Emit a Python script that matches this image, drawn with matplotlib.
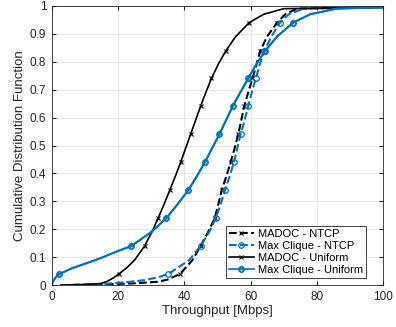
import numpy as np
import matplotlib.pyplot as plt
from matplotlib.lines import Line2D

# CDF levels (y) and throughput (x)
y_madoc_ntcp = [0, 0.002, 0.006, 0.012, 0.02, 0.04, 0.09, 0.14, 0.19, 0.24, 0.29, 0.34, 0.39, 0.44, 0.49,
                0.54, 0.59, 0.64, 0.69, 0.74, 0.79, 0.84, 0.89, 0.94, 0.97, 0.99, 0.995]
x_madoc_ntcp = [3, 12, 24, 32, 35, 38.7, 42.5, 44.9, 47.2, 49.2, 50.3, 51.3, 52.7, 54.0, 55.2,
                56.3, 57.2, 58.1, 59.3, 60.6, 61.8, 63.0, 65.0, 68.0, 70.5, 74, 100]

y_clique_ntcp = [0, 0.004, 0.01, 0.018, 0.028, 0.04, 0.09, 0.14, 0.19, 0.24, 0.29, 0.34, 0.39, 0.44, 0.49,
                 0.54, 0.59, 0.64, 0.69, 0.74, 0.79, 0.84, 0.89, 0.94, 0.97, 0.99, 0.995]
x_clique_ntcp = [2.5, 15, 22, 28, 32, 35.2, 41.5, 44.9, 47.5, 49.5, 51.0, 52.3, 53.7, 55.0, 56.0,
                 57.0, 58.2, 59.3, 60.4, 61.6, 62.8, 64.2, 66.3, 68.9, 71.5, 76, 100]

y_madoc_unif = [0, 0.002, 0.006, 0.015, 0.027, 0.04, 0.062, 0.09, 0.14, 0.19, 0.24, 0.29, 0.34, 0.39,
                0.44, 0.49, 0.54, 0.59, 0.64, 0.69, 0.74, 0.79, 0.84, 0.89, 0.94, 0.97, 0.99, 0.995]
x_madoc_unif = [2.8, 10, 14.9, 17.0, 18.7, 20.2, 22.6, 25.0, 28.0, 30.2, 32.1, 33.9, 35.6, 37.3,
                38.9, 40.4, 41.9, 43.4, 44.9, 46.5, 48.2, 50.2, 52.6, 55.5, 59.6, 64, 70, 100]

y_clique_unif = [0, 0.01, 0.018, 0.03, 0.04, 0.06, 0.093, 0.12, 0.14, 0.19, 0.24, 0.29, 0.34, 0.39,
                 0.44, 0.49, 0.54, 0.59, 0.64, 0.69, 0.74, 0.79, 0.84, 0.89, 0.94, 0.97, 0.99, 0.995]
x_clique_unif = [0, 0.2, 0.6, 1.3, 2.3, 6.0, 13.9, 19.5, 24.0, 30.0, 34.6, 38.0, 41.2, 43.8,
                 46.2, 48.4, 50.6, 52.6, 54.6, 56.9, 59.3, 61.7, 64.5, 68.0, 72.9, 78, 86, 100]

marker_levels = [0.04, 0.14, 0.24, 0.34, 0.44, 0.54, 0.64, 0.74, 0.84, 0.94]

def marks(y):
    return [i for i, v in enumerate(y) if any(abs(v - m) < 1e-9 for m in marker_levels)]

blue = '#0072BD'
plt.rcParams['font.family'] = ['Liberation Sans', 'DejaVu Sans']

fig = plt.figure(figsize=(3.96, 3.27), dpi=100)
ax = fig.add_axes([0.131, 0.128, 0.836, 0.854])

ax.plot(x_madoc_ntcp, y_madoc_ntcp, '--', color='black', lw=1.5, marker='x', ms=3.5,
        mew=0.8, markevery=marks(y_madoc_ntcp))
ax.plot(x_clique_ntcp, y_clique_ntcp, '--', color=blue, lw=1.5, marker='o', ms=4,
        mfc='none', mew=0.9, markevery=marks(y_clique_ntcp))
ax.plot(x_madoc_unif, y_madoc_unif, '-', color='black', lw=1.2, marker='x', ms=3.5,
        mew=0.8, markevery=marks(y_madoc_unif))
ax.plot(x_clique_unif, y_clique_unif, '-', color=blue, lw=1.2, marker='o', ms=4,
        mfc='none', mew=0.9, markevery=marks(y_clique_unif))
ax.plot(x_clique_unif, y_clique_unif, 'none', color=blue, marker='d', ms=3.5,
        mfc='none', mew=0.8, markevery=marks(y_clique_unif))

ax.set_xlim(0, 100)
ax.set_ylim(0, 1)
ax.set_xticks(np.arange(0, 101, 20))
ax.set_yticks(np.arange(0, 1.01, 0.1))
ax.set_yticklabels(['0', '0.1', '0.2', '0.3', '0.4', '0.5', '0.6', '0.7', '0.8', '0.9', '1'])
ax.grid(True, color='#e6e6e6', lw=0.7)
ax.set_axisbelow(True)
ax.tick_params(direction='in', length=3, top=True, right=True, labelsize=8.5,
               colors='#262626', pad=4)
for s in ax.spines.values():
    s.set_color('#262626')
    s.set_linewidth(0.6)
ax.set_xlabel('Throughput [Mbps]', fontsize=9.5, color='#262626', labelpad=2)
ax.set_ylabel('Cumulative Distribution Function', fontsize=9.5, color='#262626', labelpad=3)

handles = [
    Line2D([], [], ls='--', color='black', lw=1.5, marker='x', ms=3.5, mew=0.8),
    Line2D([], [], ls='--', color=blue, lw=1.5, marker='o', ms=4, mfc='none', mew=0.9),
    Line2D([], [], ls='-', color='black', lw=1.2, marker='x', ms=3.5, mew=0.8),
    (Line2D([], [], ls='-', color=blue, lw=1.2, marker='o', ms=4, mfc='none', mew=0.9),
     Line2D([], [], ls='none', color=blue, marker='d', ms=3.5, mfc='none', mew=0.8)),
]
labels = ['MADOC - NTCP', 'Max Clique - NTCP', 'MADOC - Uniform', 'Max Clique - Uniform']
leg = ax.legend(handles, labels, loc='lower right', bbox_to_anchor=(0.949, 0.025),
                fontsize=8, fancybox=False, edgecolor='#262626', framealpha=1,
                handlelength=2.2, handletextpad=0.4, borderpad=0.25, labelspacing=0.2,
                borderaxespad=0)
leg.get_frame().set_linewidth(0.6)

fig.savefig('out.png', dpi=100)
